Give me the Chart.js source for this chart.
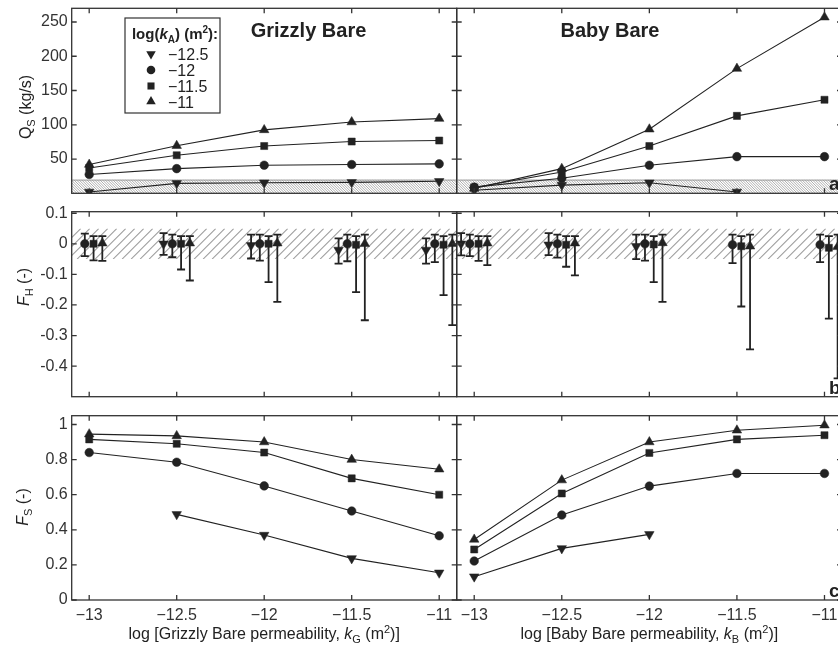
<!DOCTYPE html>
<html>
<head>
<meta charset="utf-8">
<script src="https://cdn.jsdelivr.net/npm/chart.js@4.4.0/dist/chart.umd.min.js"></script>
<style>
  html, body { margin: 0; padding: 0; background: #fff; overflow: hidden; }
  #wrap { position: relative; width: 838px; height: 647px; overflow: hidden; }
  canvas { position: absolute; }
</style>
</head>
<body>
<div id="wrap">
  <canvas id="qsG"></canvas>
  <canvas id="qsB"></canvas>
  <canvas id="fhG"></canvas>
  <canvas id="fhB"></canvas>
  <canvas id="fsG"></canvas>
  <canvas id="fsB"></canvas>
</div>
<script>
// categories (log k of the bare outcrops)
const kValues = [-13, -12.5, -12, -11.5, -11];
const xTickLabels = ['−13', '−12.5', '−12', '−11.5', '−11'];
const kALabels = ['−12.5', '−12', '−11.5', '−11'];

// panel a: Q_S (kg/s)
const qsGrizzly125 = [2, 14.5, 15.5, 16, 17.5];
const qsGrizzly12 = [27.5, 36, 41, 42, 43];
const qsGrizzly115 = [37, 55.5, 69, 75.5, 77];
const qsGrizzly11 = [42, 69.5, 92.5, 104, 109];
const qsBaby125 = [4.5, 12, 15.5, 2, null];
const qsBaby12 = [9, 22, 41, 53.5, 53.5];
const qsBaby115 = [8.5, 31, 69, 113, 136.5];
const qsBaby11 = [7, 36, 93.5, 182, 257];
const qsTicks = [50, 100, 150, 200, 250];
const qsTickLabels = ['50', '100', '150', '200', '250'];
const qsBand = [0, 20];

// panel b: F_H, with lower / upper end of each error bar
const fhGrizzly125 = [null, 0, -0.005, -0.02, -0.02];
const fhGrizzly125Lo = [null, -0.036, -0.048, -0.065, -0.065];
const fhGrizzly125Hi = [null, 0.035, 0.03, 0.018, 0.018];
const fhGrizzly12 = [0, 0, 0, 0, 0];
const fhGrizzly12Lo = [-0.04, -0.044, -0.055, -0.057, -0.06];
const fhGrizzly12Hi = [0.033, 0.03, 0.03, 0.03, 0.03];
const fhGrizzly115 = [0, 0, 0, -0.003, -0.003];
const fhGrizzly115Lo = [-0.054, -0.084, -0.125, -0.158, -0.168];
const fhGrizzly115Hi = [0.025, 0.025, 0.025, 0.025, 0.025];
const fhGrizzly11 = [0.002, 0.002, 0.002, 0, 0];
const fhGrizzly11Lo = [-0.056, -0.12, -0.19, -0.25, -0.266];
const fhGrizzly11Hi = [0.025, 0.025, 0.03, 0.03, 0.03];

const fhBaby125 = [0, -0.003, -0.008, null, null];
const fhBaby125Lo = [-0.038, -0.037, -0.05, null, null];
const fhBaby125Hi = [0.035, 0.035, 0.03, null, null];
const fhBaby12 = [0, 0, 0, -0.003, -0.003];
const fhBaby12Lo = [-0.04, -0.045, -0.055, -0.063, -0.06];
const fhBaby12Hi = [0.03, 0.03, 0.03, 0.03, 0.03];
const fhBaby115 = [0, -0.003, -0.002, -0.008, -0.013];
const fhBaby115Lo = [-0.056, -0.075, -0.125, -0.205, -0.245];
const fhBaby115Hi = [0.025, 0.025, 0.025, 0.025, 0.025];
const fhBaby11 = [0.002, 0.002, 0.003, -0.008, -0.01];
const fhBaby11Lo = [-0.07, -0.103, -0.19, -0.345, -0.44];
const fhBaby11Hi = [0.025, 0.025, 0.03, 0.03, 0.03];
const fhTicks = [0.1, 0, -0.1, -0.2, -0.3, -0.4];
const fhTickLabels = ['0.1', '0', '-0.1', '-0.2', '-0.3', '-0.4'];
const fhBand = [-0.05, 0.05];

// panel c: F_S
const fsGrizzly125 = [null, 0.488, 0.37, 0.237, 0.155];
const fsGrizzly12 = [0.84, 0.785, 0.65, 0.507, 0.366];
const fsGrizzly115 = [0.915, 0.89, 0.84, 0.693, 0.6];
const fsGrizzly11 = [0.945, 0.935, 0.9, 0.8, 0.745];
const fsBaby125 = [0.133, 0.294, 0.374, null, null];
const fsBaby12 = [0.222, 0.484, 0.649, 0.721, 0.721];
const fsBaby115 = [0.288, 0.607, 0.838, 0.915, 0.939];
const fsBaby11 = [0.345, 0.683, 0.9, 0.967, 0.996];
const fsTicks = [0, 0.2, 0.4, 0.6, 0.8, 1];
const fsTickLabels = ['0', '0.2', '0.4', '0.6', '0.8', '1'];

const INK = '#222';
const FONT = "'Liberation Sans', Arial, sans-serif";
const markers = [
  { pointStyle: 'triangle', rotation: 180, radius: 5.5 },
  { pointStyle: 'circle', rotation: 0, radius: 4.3 },
  { pointStyle: 'rect', rotation: 0, radius: 5 },
  { pointStyle: 'triangle', rotation: 0, radius: 5.5 }
];
const fhShift = [-0.075, -0.025, 0.025, 0.075];

// draw a run of text pieces [text, font, dy]
function richText(ctx, parts, x, y, align) {
  let w = 0;
  parts.forEach(p => { ctx.font = p[1]; w += ctx.measureText(p[0]).width; });
  let cx = align === 'center' ? x - w / 2 : x;
  ctx.textAlign = 'left';
  ctx.textBaseline = 'alphabetic';
  parts.forEach(p => {
    ctx.font = p[1];
    ctx.fillText(p[0], cx, y + (p[2] || 0));
    cx += ctx.measureText(p[0]).width;
  });
}

const f16 = '16px ' + FONT, f16i = 'italic 16px ' + FONT, f11 = '11px ' + FONT;

const panelPlugin = {
  id: 'panel',
  beforeDatasetsDraw(chart, args, o) {
    const ctx = chart.ctx, a = chart.chartArea;
    const xs = chart.scales.x, ys = chart.scales.y;
    ctx.save();
    ctx.beginPath();
    ctx.rect(a.left, a.top, a.right - a.left, a.bottom - a.top);
    ctx.clip();
    if (o.band) {
      const t = ys.getPixelForValue(o.band[1]), b = ys.getPixelForValue(o.band[0]);
      const h = b - t;
      ctx.save();
      ctx.beginPath();
      ctx.rect(a.left, t, a.right - a.left, h);
      ctx.clip();
      ctx.strokeStyle = o.dense ? '#8c8c8c' : '#a0a0a0';
      ctx.lineWidth = o.dense ? 0.7 : 1.1;
      const step = o.dense ? 2.6 : 9;
      ctx.beginPath();
      for (let x = a.left - h; x < a.right + h; x += step) {
        if (o.dense) { ctx.moveTo(x, t); ctx.lineTo(x + h, b); }
        else { ctx.moveTo(x, b); ctx.lineTo(x + h, t); }
      }
      ctx.stroke();
      ctx.restore();
      if (o.dense) {
        ctx.strokeStyle = '#999';
        ctx.lineWidth = 1;
        ctx.beginPath();
        ctx.moveTo(a.left, t + 0.5); ctx.lineTo(a.right, t + 0.5);
        ctx.stroke();
      }
    }
    if (o.errLo) {
      ctx.strokeStyle = INK;
      ctx.lineWidth = 1.8;
      chart.data.datasets.forEach((ds, i) => {
        ds.data.forEach((p, j) => {
          const lo = o.errLo[i][j], hi = o.errHi[i][j];
          if (lo == null || hi == null) return;
          const x = xs.getPixelForValue(p.x);
          const y1 = ys.getPixelForValue(lo), y2 = ys.getPixelForValue(hi);
          ctx.beginPath();
          ctx.moveTo(x, y1); ctx.lineTo(x, y2);
          ctx.moveTo(x - 4, y1); ctx.lineTo(x + 4, y1);
          ctx.moveTo(x - 4, y2); ctx.lineTo(x + 4, y2);
          ctx.stroke();
        });
      });
    }
    ctx.restore();
  },
  afterDraw(chart, args, o) {
    const ctx = chart.ctx, a = chart.chartArea;
    const xs = chart.scales.x, ys = chart.scales.y;
    ctx.save();
    ctx.strokeStyle = '#333';
    ctx.lineWidth = 1.3;
    ctx.strokeRect(a.left, a.top, a.right - a.left, a.bottom - a.top);
    ctx.beginPath();
    kValues.forEach(v => {
      const x = xs.getPixelForValue(v);
      ctx.moveTo(x, a.top); ctx.lineTo(x, a.top + 5);
      ctx.moveTo(x, a.bottom); ctx.lineTo(x, a.bottom - 5);
    });
    o.yTicks.forEach(v => {
      const y = ys.getPixelForValue(v);
      ctx.moveTo(a.left, y); ctx.lineTo(a.left + 5, y);
      ctx.moveTo(a.right, y); ctx.lineTo(a.right - 5, y);
    });
    ctx.stroke();

    ctx.fillStyle = INK;
    if (o.letter) {
      ctx.font = 'bold 19px ' + FONT;
      ctx.textAlign = 'left';
      ctx.textBaseline = 'alphabetic';
      ctx.fillText(o.letter, 829 - chart.canvas.offsetLeft, a.bottom - 3);
    }
    if (o.title) {
      ctx.font = 'bold 20px ' + FONT;
      ctx.textAlign = 'center';
      ctx.textBaseline = 'alphabetic';
      ctx.fillText(o.title[0], o.title[1] - chart.canvas.offsetLeft, 37);
    }
    if (o.yTitle) {
      ctx.save();
      ctx.translate(o.yTitle[1], o.yTitle[2] - chart.canvas.offsetTop);
      ctx.rotate(-Math.PI / 2);
      richText(ctx, o.yTitle[0], 0, 5, 'center');
      ctx.restore();
    }
    if (o.xTitle) {
      richText(ctx, o.xTitle, (a.left + a.right) / 2, 639 - chart.canvas.offsetTop, 'center');
    }
    if (o.legend) {
      ctx.fillStyle = '#fff';
      ctx.fillRect(125, 18, 95, 95);
      ctx.strokeStyle = '#333';
      ctx.lineWidth = 1.2;
      ctx.strokeRect(125, 18, 95, 95);
      ctx.fillStyle = INK;
      const b15 = 'bold 15px ' + FONT, b10 = 'bold 10px ' + FONT;
      richText(ctx, [['log(', b15], ['k', 'italic ' + b15], ['A', b10, 4], [') (m', b15], ['2', b10, -6], ['):', b15]], 175, 38.5, 'center');
      const rows = [54, 70, 86, 101.5];
      kALabels.forEach((lab, i) => {
        ctx.fillStyle = INK;
        Chart.helpers.drawPoint(ctx, Object.assign({ borderWidth: 0 }, markers[i]), 151, rows[i]);
        ctx.font = f16;
        ctx.textAlign = 'left';
        ctx.textBaseline = 'alphabetic';
        ctx.fillText(lab, 168, rows[i] + 6);
      });
    }
    ctx.restore();
  }
};

function series(values, i, shift, line) {
  return {
    data: values.map((v, j) => ({ x: kValues[j] + shift, y: v })),
    showLine: line,
    borderColor: INK,
    borderWidth: 1.1,
    backgroundColor: INK,
    pointBackgroundColor: INK,
    pointBorderColor: INK,
    pointBorderWidth: 0.5,
    pointStyle: markers[i].pointStyle,
    pointRotation: markers[i].rotation,
    pointRadius: markers[i].radius,
    spanGaps: false
  };
}

const rows = [
  { top: 0, h: 200, areaTop: 8.3, areaBottom: 193.3 },
  { top: 200, h: 205, areaTop: 211.7, areaBottom: 396.7 },
  { top: 405, h: 242, areaTop: 415.7, areaBottom: 600 }
];
const cols = [
  { left: 0, w: 460, areaLeft: 71.7, areaRight: 456.7 },
  { left: 440, w: 420, areaLeft: 456.7, areaRight: 842 }
];

function makePanel(id, r, c, datasets, y, plug) {
  const row = rows[r], col = cols[c];
  const canvas = document.getElementById(id);
  canvas.width = col.w; canvas.height = row.h;
  canvas.style.left = col.left + 'px'; canvas.style.top = row.top + 'px';
  const xHeight = r === 2 ? row.top + row.h - row.areaBottom : 0;
  return new Chart(canvas, {
    type: 'scatter',
    data: { datasets: datasets },
    options: {
      responsive: false,
      animation: false,
      events: [],
      layout: {
        autoPadding: false,
        padding: {
          left: 0,
          right: col.left + col.w - col.areaRight,
          top: row.areaTop - row.top,
          bottom: row.top + row.h - row.areaBottom - xHeight
        }
      },
      plugins: { legend: { display: false }, tooltip: { enabled: false }, panel: plug },
      scales: {
        x: {
          type: 'linear', min: -13.1, max: -10.9,
          grid: { display: false, drawTicks: false }, border: { display: false },
          afterBuildTicks: s => { s.ticks = kValues.map(v => ({ value: v })); },
          afterFit: s => { s.height = xHeight; s.paddingLeft = 0; s.paddingRight = 0; },
          ticks: {
            display: r === 2, padding: 6, color: '#333', font: { family: FONT, size: 16 },
            maxRotation: 0, autoSkip: false,
            callback: (v, i) => xTickLabels[i]
          }
        },
        y: {
          type: 'linear', min: y.min, max: y.max,
          grid: { display: false, drawTicks: false }, border: { display: false },
          afterBuildTicks: s => { s.ticks = y.ticks.map(v => ({ value: v })); },
          afterFit: s => { s.width = col.areaLeft - col.left; s.paddingTop = 0; s.paddingBottom = 0; },
          ticks: {
            display: c === 0, padding: 4, color: '#333', font: { family: FONT, size: 16 },
            autoSkip: false,
            callback: (v, i) => y.labels[i]
          }
        }
      }
    },
    plugins: [panelPlugin]
  });
}

const qsAxis = { min: 0, max: 270, ticks: qsTicks, labels: qsTickLabels };
const fhAxis = { min: -0.5, max: 0.105, ticks: fhTicks, labels: fhTickLabels };
const fsAxis = { min: 0, max: 1.05, ticks: fsTicks, labels: fsTickLabels };

makePanel('qsG', 0, 0,
  [qsGrizzly125, qsGrizzly12, qsGrizzly115, qsGrizzly11].map((d, i) => series(d, i, 0, true)),
  qsAxis,
  { band: qsBand, dense: true, yTicks: qsTicks, title: ['Grizzly Bare', 308.5], legend: true,
    yTitle: [[['Q', f16], ['S', f11, 4], [' (kg/s)', f16]], 26, 107] });
makePanel('qsB', 0, 1,
  [qsBaby125, qsBaby12, qsBaby115, qsBaby11].map((d, i) => series(d, i, 0, true)),
  qsAxis,
  { band: qsBand, dense: true, yTicks: qsTicks, title: ['Baby Bare', 610], letter: 'a' });

makePanel('fhG', 1, 0,
  [fhGrizzly125, fhGrizzly12, fhGrizzly115, fhGrizzly11].map((d, i) => series(d, i, fhShift[i], false)),
  fhAxis,
  { band: fhBand, yTicks: fhTicks,
    errLo: [fhGrizzly125Lo, fhGrizzly12Lo, fhGrizzly115Lo, fhGrizzly11Lo],
    errHi: [fhGrizzly125Hi, fhGrizzly12Hi, fhGrizzly115Hi, fhGrizzly11Hi],
    yTitle: [[['F', f16i], ['H', f11, 4], [' (-)', f16]], 24, 287] });
makePanel('fhB', 1, 1,
  [fhBaby125, fhBaby12, fhBaby115, fhBaby11].map((d, i) => series(d, i, fhShift[i], false)),
  fhAxis,
  { band: fhBand, yTicks: fhTicks, letter: 'b',
    errLo: [fhBaby125Lo, fhBaby12Lo, fhBaby115Lo, fhBaby11Lo],
    errHi: [fhBaby125Hi, fhBaby12Hi, fhBaby115Hi, fhBaby11Hi] });

makePanel('fsG', 2, 0,
  [fsGrizzly125, fsGrizzly12, fsGrizzly115, fsGrizzly11].map((d, i) => series(d, i, 0, true)),
  fsAxis,
  { yTicks: fsTicks,
    yTitle: [[['F', f16i], ['S', f11, 4], [' (-)', f16]], 23, 507],
    xTitle: [['log [Grizzly Bare permeability, ', f16], ['k', f16i], ['G', f11, 4], [' (m', f16], ['2', f11, -6], [')]', f16]] });
makePanel('fsB', 2, 1,
  [fsBaby125, fsBaby12, fsBaby115, fsBaby11].map((d, i) => series(d, i, 0, true)),
  fsAxis,
  { yTicks: fsTicks, letter: 'c',
    xTitle: [['log [Baby Bare permeability, ', f16], ['k', f16i], ['B', f11, 4], [' (m', f16], ['2', f11, -6], [')]', f16]] });
</script>
</body>
</html>
